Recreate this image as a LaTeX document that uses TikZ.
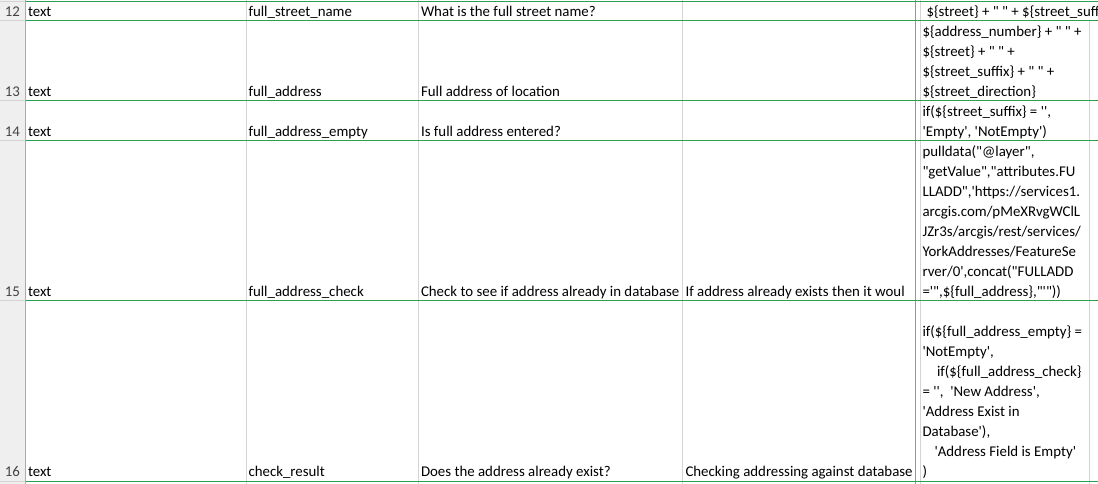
\documentclass[tikz,border=0pt]{standalone}
\usepackage{fontspec}
\setmainfont{Carlito}[Ligatures=TeXOff]
\definecolor{gridc}{RGB}{212,212,212}
\definecolor{greenc}{RGB}{44,160,80}
\definecolor{darkc}{RGB}{150,150,150}
\definecolor{hdrbg}{RGB}{239,239,239}
\definecolor{hdrline}{RGB}{171,171,171}
\definecolor{numc}{RGB}{68,68,68}
\begin{document}
\begin{tikzpicture}[x=0.75pt,y=-0.75pt,
  cell/.style={inner sep=0pt,outer sep=0pt,anchor=base west,font=\fontsize{11.15pt}{15pt}\selectfont},
  num/.style={inner sep=0pt,outer sep=0pt,anchor=base east,text=numc,font=\fontsize{11.15pt}{15pt}\selectfont},
  grid/.style={draw=gridc,line width=0.75pt},
  rowline/.style={draw=greenc,line width=0.75pt}]
\useasboundingbox (0,0) rectangle (1098,484);
% header column
\fill[hdrbg] (0,0) rectangle (25,484);
\foreach \yy in {1.5,21,101,141,301,481.5} \draw[grid] (0,\yy) -- (25,\yy);
\draw[draw=hdrline,line width=0.75pt] (25.5,0) -- (25.5,484);
% column grid lines
\foreach \xx in {246.5,418.5,682.5,920.5} \draw[grid] (\xx,0) -- (\xx,484);
\draw[grid] (1089.5,21) -- (1089.5,484);
\draw[draw=darkc,line width=0.75pt] (915.5,0) -- (915.5,484);
% row borders
\foreach \yy in {1.5,21,101,141,301,481.5} \draw[rowline] (25.5,\yy) -- (1098,\yy);
% row numbers
\node[num] (n12) at (20,16.7) {12};
\node[num] (n13) at (20,96.7) {13};
\node[num] (n14) at (20,136.7) {14};
\node[num] (n15) at (20,296.7) {15};
\node[num] (n16) at (20,476.7) {16};
% column A
\node[cell] (a12) at (28,16.7) {text};
\node[cell] (a13) at (28,96.7) {text};
\node[cell] (a14) at (28,136.7) {text};
\node[cell] (a15) at (28,296.7) {text};
\node[cell] (a16) at (28,476.7) {text};
% column B
\node[cell] (b12) at (248.5,16.7) {full\_street\_name};
\node[cell] (b13) at (248.5,96.7) {full\_address};
\node[cell] (b14) at (248.5,136.7) {full\_address\_empty};
\node[cell] (b15) at (248.5,296.7) {full\_address\_check};
\node[cell] (b16) at (248.5,476.7) {check\_result};
% column C
\node[cell] (c12) at (421,16.7) {What is the full street name?};
\node[cell] (c13) at (421,96.7) {Full address of location};
\node[cell] (c14) at (421,136.7) {Is full address entered?};
\node[cell] (c15) at (421,296.7) {Check to see if address already in database};
\node[cell] (c16) at (421,476.7) {Does the address already exist?};
% column D (clipped)
\begin{scope}
\clip (683,141) rectangle (914,482);
\node[cell] (d15) at (685.5,296.7) {If address already exists then it woul};
\node[cell] (d16) at (685.5,476.7) {Checking addressing against database};
\end{scope}
% column E
\begin{scope}
\clip (921,0) rectangle (1098,484);
\node[cell] (e12) at (926.5,16.7) {\$\{street\} + " " + \$\{street\_suff};
\end{scope}
\node[cell] (e13a) at (922.5,36.7) {\$\{address\_number\} + " " +};
\node[cell] (e13b) at (922.5,56.7) {\$\{street\} + " " +};
\node[cell] (e13c) at (922.5,76.7) {\$\{street\_suffix\} + " " +};
\node[cell] (e13d) at (922.5,96.7) {\$\{street\_direction\}};
\node[cell] (e14a) at (922.5,116.7) {if(\$\{street\_suffix\} = '',};
\node[cell] (e14b) at (922.5,136.7) {'Empty', 'NotEmpty')};
\node[cell] (e15a) at (922.5,156.7) {pulldata("@layer",};
\node[cell] (e15b) at (922.5,176.7) {"getValue","attributes.FU};
\node[cell] (e15c) at (922.5,196.7) {LLADD",'https://services1.};
\node[cell] (e15d) at (922.5,216.7) {arcgis.com/pMeXRvgWClL};
\node[cell] (e15e) at (922.5,236.7) {JZr3s/arcgis/rest/services/};
\node[cell] (e15f) at (922.5,256.7) {YorkAddresses/FeatureSe};
\node[cell] (e15g) at (922.5,276.7) {rver/0',concat("FULLADD};
\node[cell] (e15h) at (922.5,296.7) {='",\$\{full\_address\},"'"))};
\node[cell] (e16a) at (922.5,336.7) {if(\$\{full\_address\_empty\} =};
\node[cell] (e16b) at (922.5,356.7) {'NotEmpty',};
\node[cell] (e16c) at (937,376.7) {if(\$\{full\_address\_check\}};
\node[cell] (e16d) at (922.5,396.7) {= '',\ \ 'New Address',};
\node[cell] (e16e) at (922.5,416.7) {'Address Exist in};
\node[cell] (e16f) at (922.5,436.7) {Database'),};
\node[cell] (e16g) at (934.5,456.7) {'Address Field is Empty'};
\node[cell] (e16h) at (922.5,476.7) {)};
\end{tikzpicture}
\end{document}
